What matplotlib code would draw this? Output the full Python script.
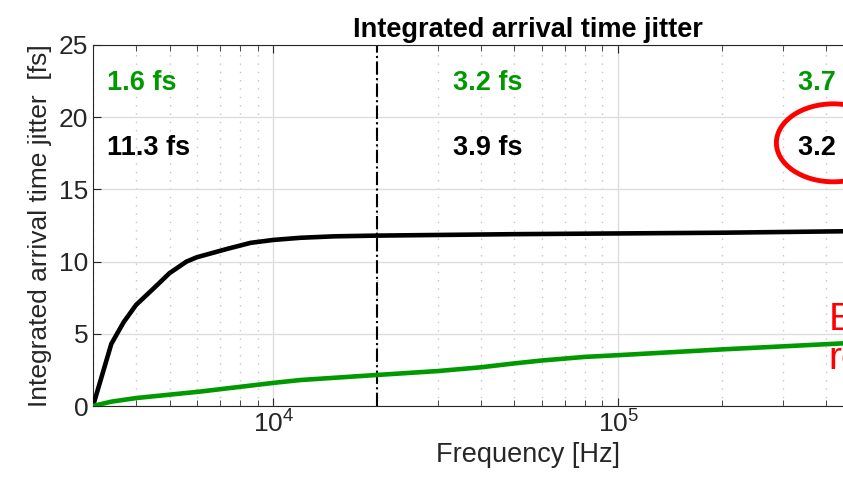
import matplotlib
matplotlib.use('Agg')
from matplotlib import pyplot as plt
from matplotlib.patches import Ellipse
from matplotlib.ticker import LogLocator, NullFormatter

# data
f_black = [3000, 3390, 3680, 4000, 4500, 5000, 5600, 6000, 7400, 8600, 10000, 12000, 15000, 20000, 50000, 100000, 200000, 450000, 1000000]
j_black = [0, 4.3, 5.8, 7.0, 8.15, 9.2, 10.0, 10.3, 10.9, 11.3, 11.5, 11.65, 11.75, 11.8, 11.9, 11.95, 12.0, 12.1, 12.2]
f_green = [3000, 3390, 4000, 6140, 10000, 12000, 20000, 30000, 40000, 50000, 60000, 80000, 100000, 200000, 450000, 1000000]
j_green = [0, 0.3, 0.55, 1.0, 1.6, 1.8, 2.15, 2.42, 2.68, 2.95, 3.15, 3.4, 3.52, 3.92, 4.34, 4.7]

f_split = 20000
band_x = [3300, 33300, 333000]
green_labels = ['1.6 fs', '3.2 fs', '3.7 fs']
black_labels = ['11.3 fs', '3.9 fs', '3.2 fs']

fam = 'Liberation Sans'
plt.rcParams['font.family'] = fam
plt.rcParams['mathtext.fontset'] = 'custom'
plt.rcParams['mathtext.rm'] = fam
plt.rcParams['mathtext.default'] = 'regular'

grn = '#009900'
dk = '#262626'

fig = plt.figure(figsize=(8.43, 4.9), dpi=100)
ax = fig.add_axes([93 / 843, 84 / 490, 870 / 843, 361 / 490])

ax.plot(f_black, j_black, color='k', lw=3.3, zorder=3)
ax.plot(f_green, j_green, color=grn, lw=3.3, zorder=3)
ax.axvline(f_split, color='k', ls='-.', lw=1.5, zorder=2)

ax.set_xscale('log')
ax.set_xlim(3000, 1e6)
ax.set_ylim(0, 25)
ax.set_yticks([0, 5, 10, 15, 20, 25])
ax.xaxis.set_minor_locator(LogLocator(base=10, subs=range(2, 10), numticks=20))
ax.xaxis.set_minor_formatter(NullFormatter())

ax.grid(True, which='major', color='#dddddd', lw=1, zorder=0)
ax.grid(True, which='minor', axis='x', color='#c4c4c4', ls=(0, (1, 5)), lw=1, zorder=0)
ax.set_axisbelow(True)
ax.tick_params(which='both', direction='in', top=True, right=True, colors=dk, labelsize=19)
ax.tick_params(which='major', length=6)
ax.tick_params(which='minor', length=4)
for s in ax.spines.values():
    s.set_color(dk)

ax.set_xlabel('Frequency [Hz]', fontsize=19.5, color=dk, labelpad=3)
ax.set_ylabel('Integrated arrival time jitter  [fs]', fontsize=19, color=dk, labelpad=5)
ax.set_title('Integrated arrival time jitter', fontsize=19.5, fontweight='bold', pad=6)

for x, g, b in zip(band_x, green_labels, black_labels):
    ax.text(x, 22.4, g, color=grn, fontsize=19.5, fontweight='bold', va='center')
    ax.text(x, 17.9, b, color='k', fontsize=19.5, fontweight='bold', va='center')

ax.add_patch(Ellipse((0.851, 0.729), 0.131, 0.216, transform=ax.transAxes,
                     fill=False, ec='red', lw=3.5, zorder=4, clip_on=False))
ax.text(0.851 + (828 - 833) / 870, (406 - 302) / 361, 'EuXFEL\nrequirement', transform=ax.transAxes,
        color='red', fontsize=28, va='top', ha='left', linespacing=1.1)

fig.savefig('out.png', dpi=100)
